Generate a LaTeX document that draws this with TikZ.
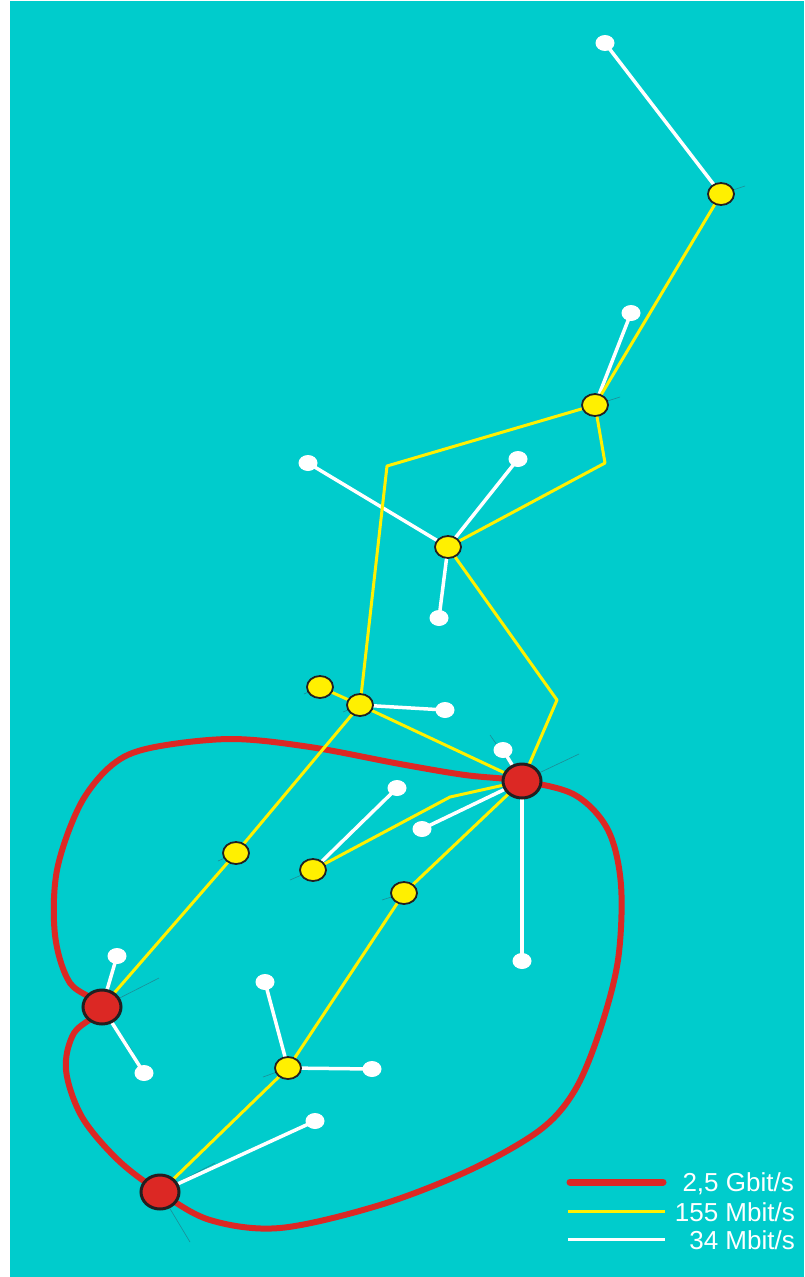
\documentclass[tikz,border=0pt]{standalone}
\usepackage{fontspec}
\setmainfont{Liberation Sans}
\usetikzlibrary{shapes.geometric,backgrounds}
\definecolor{bgteal}{RGB}{0,204,204}
\definecolor{ringred}{RGB}{220,40,36}
\definecolor{lyellow}{RGB}{255,240,0}
\definecolor{outl}{RGB}{35,31,32}
\definecolor{tick}{RGB}{30,140,150}
\begin{document}
\begin{tikzpicture}[x=1pt,y=-1pt,
  rnode/.style={ellipse,draw=outl,line width=3,fill=ringred,minimum width=38,minimum height=34,inner sep=0},
  ynode/.style={ellipse,draw=outl,line width=1.8,fill=lyellow,minimum width=26,minimum height=22,inner sep=0},
  wnode/.style={ellipse,fill=white,minimum width=19,minimum height=16,inner sep=0},
  ring/.style={draw=ringred,line width=6},
  yl/.style={draw=lyellow,line width=3,line join=round},
  wl/.style={draw=white,line width=3.5},
  tk/.style={draw=tick,line width=0.6},
  lab/.style={anchor=east,text=white,font=\fontsize{26}{28}\selectfont,inner sep=0}]
\useasboundingbox (0,0) rectangle (804,1277);
\begin{pgfonlayer}{background}
\fill[white] (0,0) rectangle (804,1277);
\fill[bgteal] (10,1) rectangle (804,1277);
\end{pgfonlayer}
% red nodes
\node[rnode] (R1) at (522,781) {};
\node[rnode] (R2) at (102,1007) {};
\node[rnode] (R3) at (160,1192) {};
% yellow nodes
\node[ynode] (Y1) at (721,194) {};
\node[ynode] (Y2) at (595,405) {};
\node[ynode] (Y3) at (448,547) {};
\node[ynode] (Y4) at (320,687) {};
\node[ynode] (Y5) at (360,705) {};
\node[ynode] (Y6) at (236,853) {};
\node[ynode] (Y7) at (313,870) {};
\node[ynode] (Y8) at (404,893) {};
\node[ynode] (Y9) at (288,1068) {};
% white nodes
\node[wnode] (W1) at (605,43) {};
\node[wnode] (W2) at (631,313) {};
\node[wnode] (W3) at (308,463) {};
\node[wnode] (W4) at (518,459) {};
\node[wnode] (W5) at (439,618) {};
\node[wnode] (W6) at (445,710) {};
\node[wnode] (W7) at (503,750) {};
\node[wnode] (W8) at (397,788) {};
\node[wnode] (W9) at (422,829) {};
\node[wnode] (W10) at (522,961) {};
\node[wnode] (W11) at (117,956) {};
\node[wnode] (W12) at (144,1073) {};
\node[wnode] (W13) at (265,982) {};
\node[wnode] (W14) at (372,1069) {};
\node[wnode] (W15) at (315,1121) {};
% bend points
\coordinate (b1) at (605,463);
\coordinate (b2) at (387,466);
\coordinate (b3) at (557,700);
\coordinate (b4) at (450,797);
% legend
\coordinate (l1a) at (570,1182); \coordinate (l1b) at (663,1182);
\coordinate (l2a) at (568,1211); \coordinate (l2b) at (665,1211);
\coordinate (l3a) at (568,1239); \coordinate (l3b) at (665,1239);
\node[lab] (t1) at (794,1184) {2,5 Gbit/s};
\node[lab] (t2) at (795,1212) {155 Mbit/s};
\node[lab] (t3) at (795,1240) {34 Mbit/s};
\begin{pgfonlayer}{background}
% faint tick lines
\draw[tk] (490,735) -- (R1.center) -- (579,754);
\draw[tk] (159,978) -- (R2.center) -- (133,1052);
\draw[tk] (215,1163) -- (R3.center) -- (190,1242);
\draw[tk] (Y1.center) -- (745,186);
\draw[tk] (Y2.center) -- (620,397);
\draw[tk] (Y4.center) -- (304,694);
\draw[tk] (Y5.center) -- (343,712);
\draw[tk] (Y6.center) -- (218,861);
\draw[tk] (Y7.center) -- (290,880);
\draw[tk] (Y8.center) -- (382,900);
\draw[tk] (Y9.center) -- (263,1077);
% red ring
\draw[ring] plot[smooth cycle,tension=0.55] coordinates {(R1.center) (575,795) (608,830) (621,885) (618,960) (600,1030) (575,1090) (540,1130) (470,1170) (380,1205) (280,1228) (210,1220) (R3.center) (118,1160) (82,1117) (66,1070) (74,1033) (R2.center) (70,983) (55,935) (57,870) (80,805) (112,765) (150,748) (230,739) (310,747) (400,764) (465,775)};
% white links
\draw[wl] (W1.center) -- (Y1.center);
\draw[wl] (W2.center) -- (Y2.center);
\draw[wl] (W3.center) -- (Y3.center);
\draw[wl] (W4.center) -- (Y3.center);
\draw[wl] (W5.center) -- (Y3.center);
\draw[wl] (Y5.center) -- (W6.center);
\draw[wl] (W7.center) -- (R1.center);
\draw[wl] (W8.center) -- (Y7.center);
\draw[wl] (W9.center) -- (R1.center);
\draw[wl] (R1.center) -- (W10.center);
\draw[wl] (W11.center) -- (R2.center);
\draw[wl] (R2.center) -- (W12.center);
\draw[wl] (W13.center) -- (Y9.center);
\draw[wl] (Y9.center) -- (W14.center);
\draw[wl] (R3.center) -- (W15.center);
% yellow links
\draw[yl] (Y1.center) -- (Y2.center);
\draw[yl] (Y2.center) -- (b1) -- (Y3.center);
\draw[yl] (Y2.center) -- (b2) -- (Y5.center);
\draw[yl] (Y3.center) -- (b3) -- (R1.center);
\draw[yl] (Y4.center) -- (Y5.center);
\draw[yl] (Y5.center) -- (R1.center);
\draw[yl] (Y5.center) -- (Y6.center) -- (R2.center);
\draw[yl] (Y7.center) -- (b4) -- (R1.center);
\draw[yl] (R1.center) -- (Y8.center) -- (Y9.center) -- (R3.center);
% legend lines
\draw[ringred,line width=7,line cap=round] (l1a) -- (l1b);
\draw[lyellow,line width=3] (l2a) -- (l2b);
\draw[white,line width=3] (l3a) -- (l3b);
\end{pgfonlayer}
\end{tikzpicture}
\end{document}
